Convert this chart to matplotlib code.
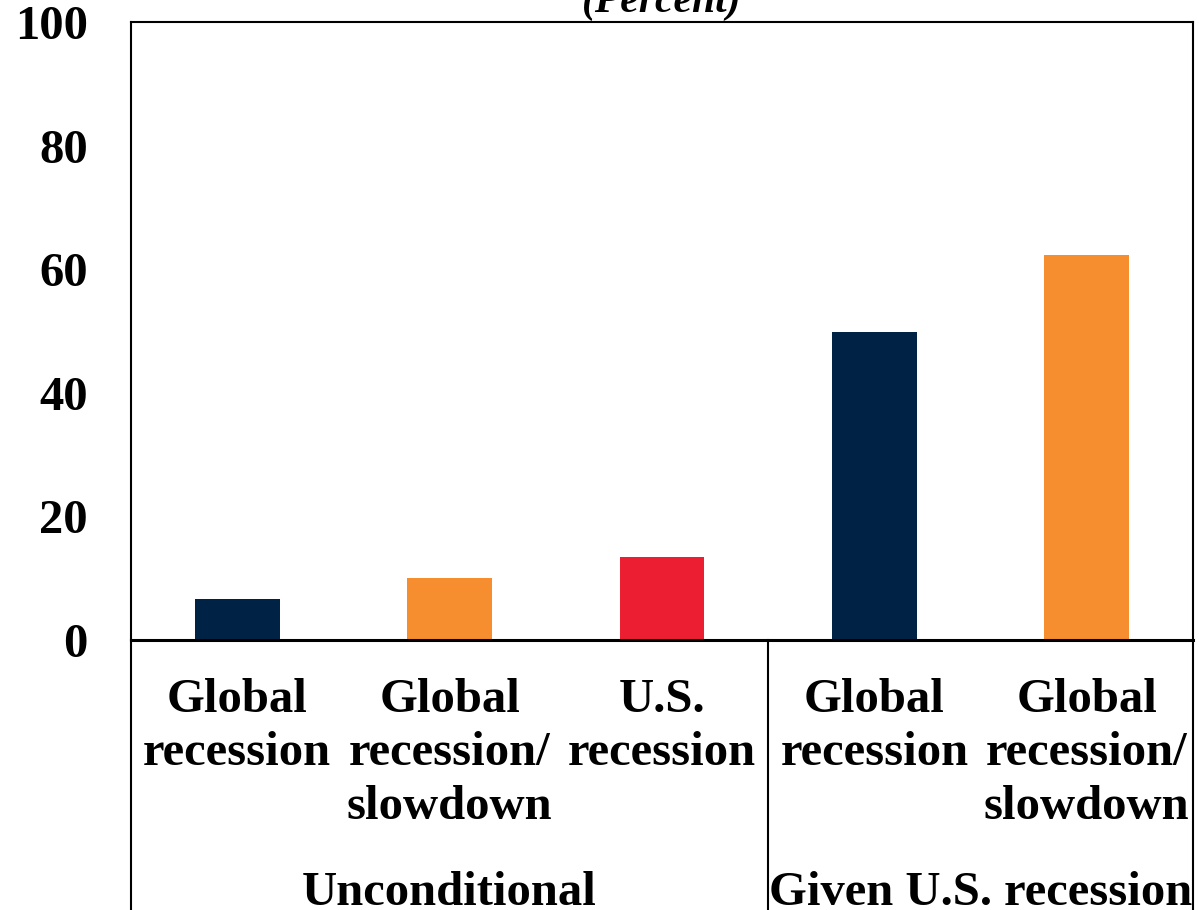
import matplotlib.pyplot as plt
from matplotlib.transforms import blended_transform_factory

categories = ["Global\nrecession", "Global\nrecession/\nslowdown", "U.S.\nrecession",
              "Global\nrecession", "Global\nrecession/\nslowdown"]
values = [6.6, 10.0, 13.4, 49.8, 62.3]
colors = ["#002345", "#F68D2E", "#EC1E31", "#002345", "#F68D2E"]
groups = ["Unconditional", "Given U.S. recession"]
group_centers = [1.0, 3.5]
yticks = [0, 20, 40, 60, 80, 100]

plt.rcParams['font.family'] = ['Liberation Serif', 'DejaVu Serif']
plt.rcParams['font.weight'] = 'bold'

fig = plt.figure(figsize=(11.99, 9.10), dpi=100)
ax = fig.add_axes([131 / 1199, 1 - 640 / 910, (1193 - 131) / 1199, 618 / 910])

x = list(range(len(values)))
ax.bar(x, values, width=0.4, color=colors, zorder=2)

ax.set_xlim(-0.5, 4.5)
ax.set_ylim(0, 100)
ax.set_yticks(yticks)
ax.set_yticklabels([str(v) for v in yticks], fontsize=35, fontweight='bold')
ax.set_xticks(x)
ax.set_xticklabels(categories, fontsize=35, fontweight='bold', linespacing=1.28)
ax.tick_params(axis='y', length=0, pad=31)
ax.tick_params(axis='x', length=0, pad=27)

for s in ax.spines.values():
    s.set_linewidth(1.5)
    s.set_color('black')
ax.spines['bottom'].set_linewidth(2.2)

# divider lines below the axis
trans = blended_transform_factory(ax.transData, ax.transAxes)
bottom = -0.44
for xv in [-0.5, 2.5, 4.5]:
    ax.plot([xv, xv], [0, bottom], color='black', lw=1.5, transform=trans, clip_on=False)

for g, c in zip(groups, group_centers):
    ax.text(c, -0.429, g, transform=trans, ha='center', va='baseline',
            fontsize=35, fontweight='bold')

fig.text(662 / 1199, 1 - 12 / 910, "(Percent)", ha='center', va='baseline',
         fontsize=30, fontweight='bold', style='italic')

fig.savefig("out.png", dpi=100)
